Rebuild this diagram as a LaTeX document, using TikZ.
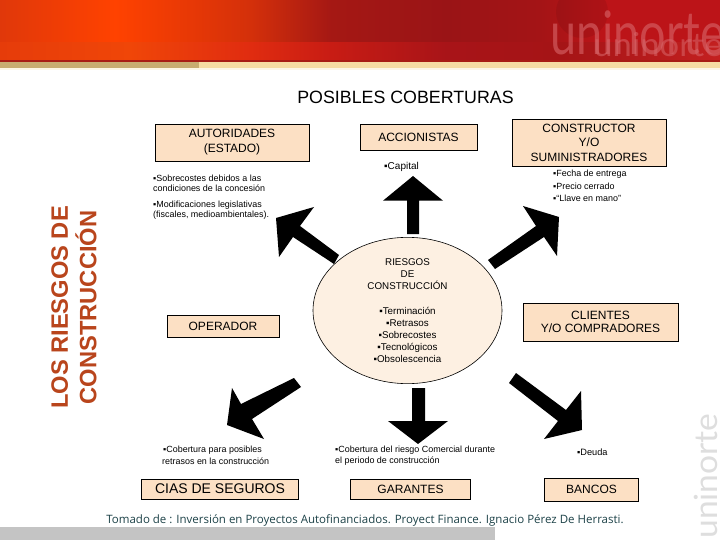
\documentclass[tikz,border=0pt]{standalone}
\usepackage{fontspec}
\setmainfont{Liberation Sans}
\newfontfamily\footfont{Open Sans}
\newfontfamily\logofont{Lato}
\usetikzlibrary{shapes.geometric}
\newcommand{\fsz}[1]{\fontsize{#1}{#1}\selectfont}
\definecolor{boxfill}{HTML}{FCE0C4}
\definecolor{ellfill}{HTML}{FDF0E2}
\definecolor{sidetext}{HTML}{B9451C}
\definecolor{foottext}{HTML}{1D4248}
\definecolor{stripL}{HTML}{C8AC70}
\definecolor{stripR}{HTML}{F6DCA2}
\definecolor{bandD}{HTML}{A81C14}
\definecolor{logoC}{HTML}{D8666A}
\definecolor{hA}{HTML}{E0380A}\definecolor{hB}{HTML}{FF4200}\definecolor{hC}{HTML}{D4300A}\definecolor{hD}{HTML}{A51814}\definecolor{hE}{HTML}{9A1416}\definecolor{hF}{HTML}{A41416}\definecolor{hG}{HTML}{BC1418}
\definecolor{iA}{HTML}{E63C0A}\definecolor{iB}{HTML}{F04608}\definecolor{iC}{HTML}{E02C10}\definecolor{iD}{HTML}{C81C14}\definecolor{iE}{HTML}{A81418}\definecolor{iF}{HTML}{A51416}\definecolor{iG}{HTML}{C42020}
\pgfdeclarehorizontalshading{hdrtop}{100bp}{color(0bp)=(hA);color(25bp)=(hA);color(33bp)=(hB);color(42.4bp)=(hC);color(48bp)=(hD);color(56bp)=(hE);color(62.5bp)=(hF);color(67bp)=(hG);color(75bp)=(hG);color(100bp)=(hG)}
\pgfdeclarehorizontalshading{hdrlow}{100bp}{color(0bp)=(iA);color(25bp)=(iA);color(34bp)=(iB);color(42.4bp)=(iC);color(48bp)=(iD);color(56bp)=(iE);color(64bp)=(iF);color(75bp)=(iG);color(100bp)=(iG)}
\tikzset{
  bx/.style={draw=black,line width=0.9pt,fill=boxfill,inner sep=0pt,align=center,font=\fsz{12}},
  note/.style={anchor=west,inner sep=0pt,font=\fsz{8.95}},
  bigarrow/.style={fill=black,draw=none},
}
\begin{document}
\begin{tikzpicture}[x=1pt,y=-1pt]
\useasboundingbox (0,0) rectangle (720,540);
\fill[white] (0,0) rectangle (720,540);
% header
\shade[shading=hdrtop] (0,0) rectangle (720,44);
\shade[shading=hdrlow] (0,43) rectangle (720,60);
\fill[bandD] (0,60) rectangle (720,62.5);
\begin{scope}
\clip (0,0) rectangle (720,60);
\fill[black,opacity=.07] (582,12) ellipse (26 and 26);
\end{scope}
\fill[stripL] (0,62.5) rectangle (199,68.5);
\fill[stripR] (199,62.5) rectangle (720,68.5);
\fill[stripR,opacity=.25] (0,68.5) rectangle (720,70.5);
\node[anchor=base,inner sep=0pt,text=logoC,opacity=.6,xscale=0.78,font=\logofont\fsz{60}] (logobig) at (637.5,55) {uninorte};
\node[anchor=base,inner sep=0pt,text=logoC,opacity=.55,xscale=1.05,font=\logofont\fsz{33}] (logosmall) at (658,57) {uninorte};
% bottom
\fill[black!23] (0,527) rectangle (495,540);
\node[rotate=90,anchor=base,inner sep=0pt,text=black!13,xscale=1.05,font=\logofont\fsz{32}] (logoside) at (717,476) {uninorte};
% title and side text
\node[inner sep=0pt,font=\fsz{17.8}] (title) at (405.5,97) {POSIBLES COBERTURAS};
\node[rotate=90,inner sep=0pt,text=sidetext,align=center,font=\bfseries\fontsize{23.7}{28.5}\selectfont] (side) at (74,307.5) {LOS RIESGOS DE\\CONSTRUCCIÓN};
% boxes
\node[bx,minimum width=154,minimum height=37] (aut) at (232,142.5) {AUTORIDADES\\[3pt](ESTADO)};
\node[bx,minimum width=117,minimum height=26] (acc) at (418.5,137) {ACCIONISTAS};
\node[bx,minimum width=154,minimum height=47] (con) at (589,142.5) {CONSTRUCTOR\\[2.5pt]Y/O\\[2.5pt]SUMINISTRADORES};
\node[bx,minimum width=112,minimum height=22] (ope) at (223,326) {OPERADOR};
\node[bx,minimum width=155,minimum height=38] (cli) at (600.5,322) {CLIENTES\\[1.5pt]Y/O COMPRADORES};
\node[bx,minimum width=157,minimum height=20,font=\fsz{14}] (cia) at (220,489) {CIAS DE SEGUROS};
\node[bx,minimum width=120,minimum height=20] (gar) at (410.5,489) {GARANTES};
\node[bx,minimum width=94,minimum height=23] (ban) at (591.5,489.5) {BANCOS};
% central ellipse
\node[draw=black,line width=0.6pt,fill=ellfill,ellipse,minimum width=189,minimum height=145,inner sep=0pt,align=center,font=\fsz{9.8}] (risk) at (407.5,310.5) {RIESGOS\\[2.2pt]DE\\[2.2pt]CONSTRUCCIÓN\\[14.7pt]▪Terminación\\[2.2pt]▪Retrasos\\[2.2pt]▪Sobrecostes\\[2.2pt]▪Tecnológicos\\[2.2pt]▪Obsolescencia};
% block arrows
\fill[bigarrow] (407,234) -- (407,200.7) -- (383,200.7) -- (413,176) -- (443,200.7) -- (419,200.7) -- (419,234) -- cycle;
\fill[bigarrow] (339,255) -- (300,226) -- (314,207) -- (276,218) -- (279,257) -- (293,237) -- (334,264) -- cycle;
\fill[bigarrow] (488,260) -- (536,226) -- (523,206) -- (559,217) -- (557,256) -- (544,237) -- (495,269) -- cycle;
\fill[bigarrow] (294,378) -- (241,404) -- (232,388) -- (227,425) -- (264,439) -- (252,419) -- (301,387) -- cycle;
\fill[bigarrow] (412,388) -- (412,421) -- (388,421) -- (418,444) -- (448,421) -- (425,421) -- (425,388) -- cycle;
\fill[bigarrow] (516,373) -- (566,410) -- (581,391) -- (582,430) -- (544,439) -- (558,421) -- (509,383) -- cycle;
% notes
\node[note] (n1) at (153,178) {▪Sobrecostes debidos a las};
\node[note] (n2) at (153,188) {condiciones de la concesión};
\node[note] (n3) at (153,205) {▪Modificaciones legislativas};
\node[note] (n4) at (153,215) {(fiscales, medioambientales).};
\node[note,font=\fsz{10}] (n5) at (384,167) {▪Capital};
\node[note] (n6) at (553,174) {▪Fecha de entrega};
\node[note] (n7) at (553,186) {▪Precio cerrado};
\node[note] (n8) at (553,198) {▪“Llave en mano”};
\node[note] (n9) at (163,450) {▪Cobertura para posibles};
\node[note] (n10) at (162,461) {retrasos en la construcción};
\node[note] (n11) at (335,450) {▪Cobertura del riesgo Comercial durante};
\node[note] (n12) at (335,461) {el periodo de construcción};
\node[note,font=\fsz{9.2}] (n13) at (577,452) {▪Deuda};
\node[inner sep=0pt,text=foottext,font=\footfont\fsz{11.5}] (foot) at (365,520) {Tomado de : Inversión en Proyectos Autofinanciados. Proyect Finance. Ignacio Pérez De Herrasti.};
\end{tikzpicture}
\end{document}
